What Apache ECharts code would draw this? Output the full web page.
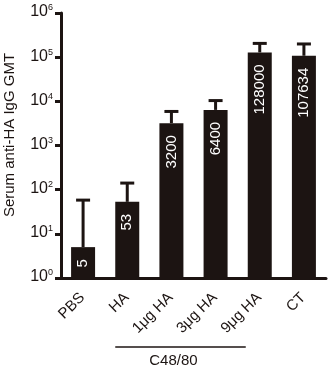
<!DOCTYPE html>
<html>
<head>
<meta charset="utf-8">
<script src="https://cdn.jsdelivr.net/npm/echarts@6/dist/echarts.min.js"></script>
<style>
  html, body { margin: 0; padding: 0; background: #fff; }
  #chart { width: 331px; height: 373px; }
</style>
</head>
<body>
<div id="chart"></div>
<script>
  // groups on the x axis
  const groups = ['PBS', 'HA', '1\u03bcg HA', '3\u03bcg HA', '9\u03bcg HA', 'CT'];
  // geometric mean titres (bar heights and labels)
  const gmt = [5, 53, 3200, 6400, 128000, 107634];
  // top of the error bars
  const errTop = [58, 141, 5900, 10400, 205000, 199000];
  // y ticks 10^0 .. 10^6
  const yTicks = [1, 10, 100, 1000, 10000, 100000, 1000000];

  const ink = '#1c1412';
  const font = 'Arial, "Liberation Sans", sans-serif';

  const myChart = echarts.init(document.getElementById('chart'));

  const option = {
    animation: false,
    grid: { left: 61, top: 13, right: 5, bottom: 95 },
    xAxis: {
      type: 'category',
      data: groups,
      axisLine: { lineStyle: { color: ink, width: 3 } },
      axisTick: { show: false },
      axisLabel: { show: false }
    },
    yAxis: {
      type: 'log',
      logBase: 10,
      min: yTicks[0],
      max: yTicks[yTicks.length - 1],
      axisLine: { show: true, lineStyle: { color: ink, width: 3 } },
      axisTick: { show: true, length: 6, lineStyle: { color: ink, width: 3 } },
      splitLine: { show: false },
      axisLabel: { show: false }
    },
    series: [
      {
        type: 'bar',
        data: gmt,
        barWidth: 24,
        itemStyle: { color: ink },
        label: {
          show: true,
          position: 'insideTop',
          rotate: 90,
          align: 'right',
          verticalAlign: 'middle',
          distance: 12,
          color: '#fff',
          fontSize: 15,
          fontFamily: font
        },
        z: 2
      },
      {
        type: 'custom',
        data: gmt.map((v, i) => [i, v, errTop[i]]),
        encode: { x: 0, y: [1, 2] },
        renderItem: function (params, api) {
          const lo = api.coord([api.value(0), api.value(1)]);
          const hi = api.coord([api.value(0), api.value(2)]);
          const half = 7;
          return {
            type: 'group',
            children: [
              { type: 'line', shape: { x1: lo[0], y1: lo[1], x2: hi[0], y2: hi[1] },
                style: { stroke: ink, lineWidth: 3 } },
              { type: 'line', shape: { x1: hi[0] - half, y1: hi[1], x2: hi[0] + half, y2: hi[1] },
                style: { stroke: ink, lineWidth: 3 } }
            ]
          };
        },
        z: 1
      }
    ]
  };
  myChart.setOption(option);

  // tick labels, y title and the C48/80 bracket, placed from the axis positions
  const xOf = name => myChart.convertToPixel({ xAxisIndex: 0 }, name);
  const yOf = v => myChart.convertToPixel({ yAxisIndex: 0 }, v);
  const axisY = yOf(yTicks[0]);
  const axisX = xOf(groups[0]) - (xOf(groups[1]) - xOf(groups[0])) / 2;

  const graphics = [];
  // y tick labels 10^n
  yTicks.forEach(v => {
    graphics.push({
      type: 'text',
      x: axisX - 8,
      y: yOf(v) - 1,
      style: {
        text: '{b|10}{s|' + Math.round(Math.log10(v)) + '}',
        align: 'right', verticalAlign: 'middle',
        rich: {
          b: { fontSize: 16, fontFamily: font, fill: ink, lineHeight: 17 },
          s: { fontSize: 9, fontFamily: font, fill: ink, verticalAlign: 'top', lineHeight: 9 }
        }
      }
    });
  });
  // slanted group labels
  groups.forEach(g => {
    graphics.push({
      type: 'text',
      x: xOf(g) - 6,
      y: axisY + 12,
      rotation: Math.PI / 4,
      style: {
        text: g, fontSize: 15, fontFamily: font, fill: ink,
        align: 'right', verticalAlign: 'top'
      }
    });
  });
  graphics.push(
    {
      type: 'text',
      x: 10,
      y: 135,
      rotation: Math.PI / 2,
      style: {
        text: 'Serum anti-HA IgG GMT',
        fontSize: 15, fontFamily: font, fill: ink,
        align: 'center', verticalAlign: 'middle'
      }
    },
    {
      type: 'line',
      shape: { x1: xOf(groups[1]) - 12, y1: 347, x2: xOf(groups[4]) - 14, y2: 347 },
      style: { stroke: ink, lineWidth: 1.5 }
    },
    {
      type: 'text',
      x: xOf(groups[2]) + 2,
      y: 361,
      style: {
        text: 'C48/80', fontSize: 15, fontFamily: font, fill: ink,
        align: 'center', verticalAlign: 'middle'
      }
    }
  );
  myChart.setOption({ graphic: graphics });

  window.addEventListener('resize', () => myChart.resize());
</script>
</body>
</html>
